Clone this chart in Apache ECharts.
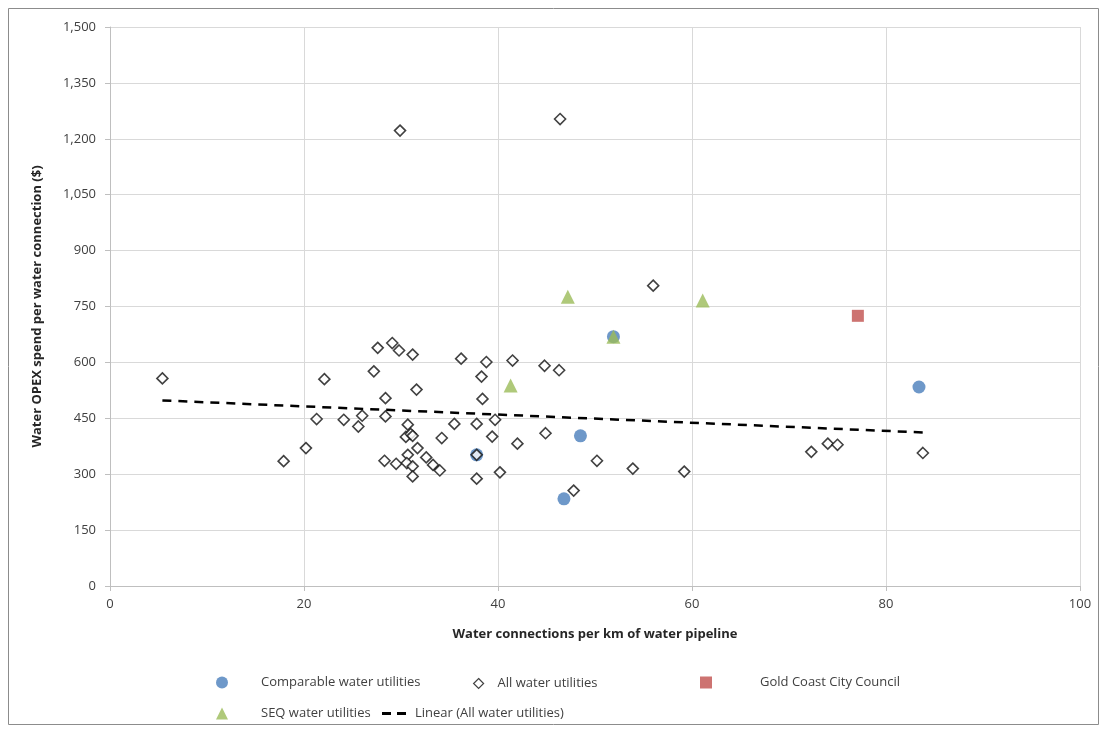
<!DOCTYPE html>
<html><head><meta charset="utf-8">
<script src="https://cdn.jsdelivr.net/npm/echarts@6/dist/echarts.min.js"></script>
<style>html,body{margin:0;padding:0;background:#fff}#c{width:1107px;height:731px}</style>
</head><body><div id="c"></div>
<script>
// All water utilities: [connections per km, OPEX per connection]
const allX = [5.4,17.9,20.2,21.3,22.1,24.1,25.6,26.0,27.2,27.6,28.3,28.4,28.4,29.1,29.5,29.8,29.9,30.5,30.7,30.7,30.6,31.0,31.2,31.2,31.2,31.2,31.6,31.7,32.6,33.3,34.0,34.2,35.5,36.2,37.8,37.8,37.8,38.3,38.4,38.8,39.4,39.7,40.2,41.5,42.0,44.8,44.9,46.3,46.4,47.8,50.2,53.9,56.0,59.2,72.3,74.0,75.0,83.8];
const allY = [557,335,370,448,555,446,428,457,576,639,336,504,455,652,328,632,1222,400,433,352,330,408,403,621,321,294,527,370,345,325,310,397,435,610,435,352,288,562,502,601,401,446,305,605,382,591,410,579,1253,256,336,315,806,307,360,382,379,357];
const compX = [37.8,48.5,46.8,51.9,83.4];
const compY = [352,403,234,669,534];
const gcX = [77.1];
const gcY = [725];
const seqX = [47.2,61.1,51.9,41.3];
const seqY = [776,766,669,538];
const trendX = [5.4,83.8];
const trendY = [498,412];
const xTicks = [0,20,40,60,80,100];
const yTicks = [0,150,300,450,600,750,900,1050,1200,1350,1500];

const pairs = (xs, ys) => xs.map((x, i) => [x, ys[i]]);
const font = 'Open Sans';
const lblColor = '#404040';
const legendBase = (item, left, top, w, h, pad) => ({
  data: [item], left: left, top: top, itemWidth: w, itemHeight: h, padding: 0,
  textStyle: {fontFamily: font, fontSize: 13, color: lblColor, padding: [0,0,0,pad]},
  selectedMode: false
});

const chart = echarts.init(document.getElementById('c'), null, {renderer: 'canvas'});
chart.setOption({
  animation: false,
  backgroundColor: '#fff',
  graphic: [{type: 'rect', shape: {x: 8.5, y: 8.5, width: 1090, height: 716}, style: {fill: 'none', stroke: '#8c8c8c', lineWidth: 1}, silent: true}],
  grid: {left: 110, right: 27, top: 27, bottom: 145, containLabel: false},
  xAxis: {
    type: 'value', min: xTicks[0], max: xTicks[xTicks.length-1], interval: 20,
    name: 'Water connections per km of water pipeline', nameLocation: 'middle', nameGap: 42,
    nameTextStyle: {fontFamily: font, fontWeight: 'bold', fontSize: 13, color: '#262626'},
    axisLine: {show: true, lineStyle: {color: '#bfbfbf'}},
    axisTick: {show: true, length: 5, lineStyle: {color: '#bfbfbf'}},
    axisLabel: {fontFamily: font, fontSize: 13, color: lblColor, margin: 12},
    splitLine: {show: true, lineStyle: {color: '#d9d9d9'}}
  },
  yAxis: {
    type: 'value', min: yTicks[0], max: yTicks[yTicks.length-1], interval: 150,
    name: 'Water OPEX spend per water connection ($)', nameLocation: 'middle', nameGap: 66, nameRotate: 90,
    nameTextStyle: {fontFamily: font, fontWeight: 'bold', fontSize: 13, color: '#262626'},
    axisLine: {show: true, lineStyle: {color: '#bfbfbf'}},
    axisTick: {show: true, length: 5, lineStyle: {color: '#bfbfbf'}},
    axisLabel: {fontFamily: font, fontSize: 13, color: lblColor, margin: 14,
      formatter: v => v.toLocaleString('en-US')},
    splitLine: {show: true, lineStyle: {color: '#d9d9d9'}}
  },
  legend: [
    legendBase('Comparable water utilities', 216, 676, 12, 12, 28),
    Object.assign(legendBase('All water utilities', 473, 677, 10, 10, 9), {itemStyle: {borderWidth: 1.2}}),
    legendBase('Gold Coast City Council', 700, 676, 12, 12, 43),
    legendBase('SEQ water utilities', 216, 707, 12, 12, 28),
    legendBase({name: 'Linear (All water utilities)', icon: 'path://M0,0H9V3H0Z M15,0H24V3H15Z'}, 382, 707, 24, 3, 4)
  ],
  series: [
    {name: 'Comparable water utilities', type: 'scatter', data: pairs(compX, compY),
      symbol: 'circle', symbolSize: 13, itemStyle: {color: '#4a7ebb'}, z: 2},
    {name: 'All water utilities', type: 'scatter', data: pairs(allX, allY),
      symbol: 'diamond', symbolSize: 11, itemStyle: {color: '#ffffff', borderColor: '#111', borderWidth: 1.6}, z: 3},
    {name: 'Gold Coast City Council', type: 'scatter', data: pairs(gcX, gcY),
      symbol: 'rect', symbolSize: 12, itemStyle: {color: '#c0504d'}, z: 4},
    {name: 'SEQ water utilities', type: 'scatter', data: pairs(seqX, seqY),
      symbol: 'triangle', symbolSize: 14, itemStyle: {color: '#9bbb59'}, z: 5},
    {name: 'Linear (All water utilities)', type: 'line', data: pairs(trendX, trendY),
      symbol: 'none', lineStyle: {color: '#000', width: 2.5, type: [9, 7]}, itemStyle: {color: '#000'}, z: 6}
  ]
});
</script></body></html>
